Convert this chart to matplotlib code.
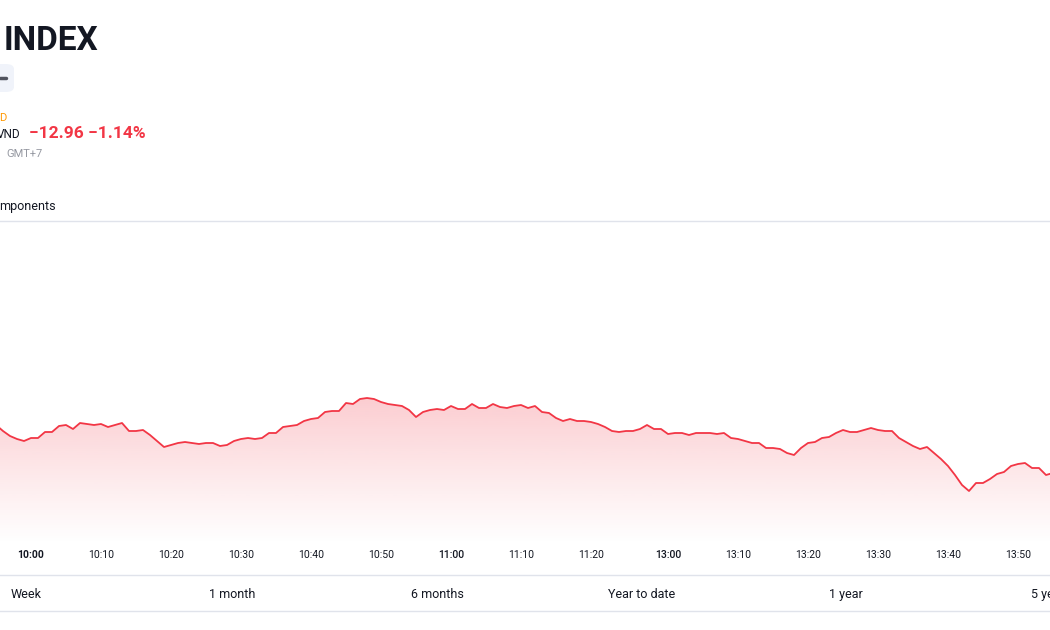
import numpy as np
import pandas as pd
import matplotlib
matplotlib.use("Agg")
import matplotlib.pyplot as plt
from matplotlib.patches import Polygon, FancyBboxPatch
from matplotlib.lines import Line2D
from matplotlib.colors import to_rgb

plt.rcParams['font.family'] = ['Roboto', 'DejaVu Sans']

# ---------------- data ----------------
morning_times = pd.date_range("2024-01-01 09:55", "2024-01-01 11:30", freq="min").strftime("%H:%M").tolist()
afternoon_times = pd.date_range("2024-01-01 13:00", "2024-01-01 13:55", freq="min").strftime("%H:%M").tolist()
times = morning_times + afternoon_times

morning_values = [
    1135.0, 1133.8, 1132.8, 1132.2, 1131.8, 1132.4, 1132.4, 1133.6, 1133.6, 1134.8,
    1135.0, 1134.2, 1135.4, 1135.2, 1135.0, 1135.2, 1134.6, 1135.0, 1135.4, 1133.8,
    1133.8, 1134.0, 1133.0, 1131.8, 1130.6, 1131.0, 1131.4, 1131.6, 1131.4, 1131.2,
    1131.4, 1131.4, 1130.8, 1131.0, 1131.8, 1132.2, 1132.4, 1132.2, 1132.4, 1133.4,
    1133.4, 1134.6, 1134.8, 1135.0, 1135.8, 1136.2, 1136.4, 1137.6, 1137.8, 1137.8,
    1139.4, 1139.2, 1140.2, 1140.4, 1140.2, 1139.6, 1139.2, 1139.0, 1138.8, 1138.0,
    1136.6, 1137.6, 1138.0, 1138.2, 1138.0, 1138.8, 1138.2, 1138.2, 1139.2, 1138.4,
    1138.4, 1139.2, 1138.6, 1138.4, 1138.8, 1139.0, 1138.4, 1138.8, 1137.6, 1137.4,
    1136.4, 1135.8, 1136.2, 1135.8, 1135.8, 1135.6, 1135.2, 1134.6, 1133.8, 1133.6,
    1133.8, 1133.8, 1134.2, 1135.0, 1134.2, 1134.2,
]
afternoon_values = [
    1133.2, 1133.4, 1133.4, 1133.0, 1133.4, 1133.4, 1133.4, 1133.2, 1133.4, 1132.4,
    1132.2, 1131.8, 1131.4, 1131.4, 1130.4, 1130.4, 1130.2, 1129.4, 1129.0, 1130.4,
    1131.4, 1131.6, 1132.4, 1132.6, 1133.4, 1134.0, 1133.6, 1133.6, 1134.0, 1134.4,
    1134.0, 1133.8, 1133.8, 1132.4, 1131.6, 1130.8, 1130.2, 1130.6, 1129.4, 1128.2,
    1126.8, 1125.0, 1123.0, 1121.8, 1123.4, 1123.4, 1124.2, 1125.2, 1125.6, 1126.8,
    1127.2, 1127.4, 1126.4, 1126.4, 1125.0, 1125.4,
]
values = morning_values + afternoon_values

tick_labels = ["10:00", "10:10", "10:20", "10:30", "10:40", "10:50", "11:00", "11:10",
               "11:20", "13:00", "13:10", "13:20", "13:30", "13:40", "13:50"]
bold_ticks = ["10:00"]
medium_ticks = ["11:00", "13:00"]

title = "INDEX"
change_text = "\u221212.96 \u22121.14%"
range_labels = ["Week", "1 month", "6 months", "Year to date", "1 year", "5 years"]

# ---------------- figure ----------------
W, H = 1050, 630
fig = plt.figure(figsize=(W / 100, H / 100), dpi=100)
fig.patch.set_facecolor("white")

RED = "#f23645"
DARK = "#131722"

def fx(px):
    return px / W

def fy(py):
    return 1 - py / H

# chart axes (pixel rows 222..545)
top_px, bot_px = 222, 545
ax = fig.add_axes([0, fy(bot_px), 1, (bot_px - top_px) / H])
ax.set_facecolor("none")

start_idx = times.index("10:00")
x = np.arange(len(values)) - start_idx
vals = np.array(values)

xmin, xmax = -31 / 7, (W - 31) / 7
ymin, ymax = 1111.0, 1175.6

# gradient fill
grad = np.linspace(0, 1, 256)
rgba = np.zeros((256, 1, 4))
rgba[..., :3] = to_rgb(RED)
rgba[:, 0, 3] = 0.25 * grad ** 1.1
im = ax.imshow(rgba, extent=[xmin, xmax, ymin, vals.max()], aspect="auto",
               origin="lower", zorder=1, interpolation="bilinear")
verts = [(x[0], ymin)] + list(zip(x, vals)) + [(x[-1], ymin)]
poly = Polygon(verts, closed=True, facecolor="none", edgecolor="none", transform=ax.transData)
ax.add_patch(poly)
im.set_clip_path(poly)

ax.plot(x, vals, color=RED, lw=1.3, zorder=3, solid_joinstyle="round")

ax.set_xlim(xmin, xmax)
ax.set_ylim(ymin, ymax)
for s in ax.spines.values():
    s.set_visible(False)
ax.set_yticks([])
tick_pos = [times.index(t) - start_idx for t in tick_labels]
ax.set_xticks(tick_pos)
ax.set_xticklabels(tick_labels)
ax.tick_params(axis="x", length=0, pad=3.5, labelsize=7.5, labelcolor=DARK)
for lbl in ax.get_xticklabels():
    if lbl.get_text() in bold_ticks:
        lbl.set_fontweight("bold")
    elif lbl.get_text() in medium_ticks:
        lbl.set_fontweight("medium")

# ---------------- header ----------------
fig.text(fx(4), fy(41), title, fontsize=24, fontweight="bold", color=DARK,
         ha="left", va="center")

box = FancyBboxPatch((fx(-10), fy(92)), fx(24), (92 - 64) / H,
                     boxstyle="round,pad=0,rounding_size=0.008",
                     transform=fig.transFigure, facecolor="#f0f3fa", edgecolor="none")
fig.add_artist(box)
fig.add_artist(Line2D([fx(0), fx(6)], [fy(78), fy(78)], transform=fig.transFigure,
                      color="#50535e", lw=2.5, solid_capstyle="round"))

fig.text(fx(-1), fy(118), "D", fontsize=8, color="#ff9800", ha="left", va="center")
fig.text(fx(-3), fy(134), "VND", fontsize=8.5, color=DARK, ha="left", va="center")
fig.text(fx(29), fy(133.5), change_text, fontsize=12.5, fontweight="bold", color=RED,
         ha="left", va="center")
fig.text(fx(6), fy(154), "GMT+7", fontsize=8, color="#9598a1", ha="left", va="center")
fig.text(fx(-1), fy(207), "mponents", fontsize=9, color=DARK, ha="left", va="center")

for py in (221, 575, 611):
    fig.add_artist(Line2D([0, 1], [fy(py), fy(py)], transform=fig.transFigure,
                          color="#e0e3eb", lw=1))

range_x = [11, 209, 411, 608, 829, 1031]
for px, lab in zip(range_x, range_labels):
    fig.text(fx(px), fy(594.5), lab, fontsize=9, color=DARK, ha="left", va="center")

fig.savefig("out.png", dpi=100, facecolor="white")
